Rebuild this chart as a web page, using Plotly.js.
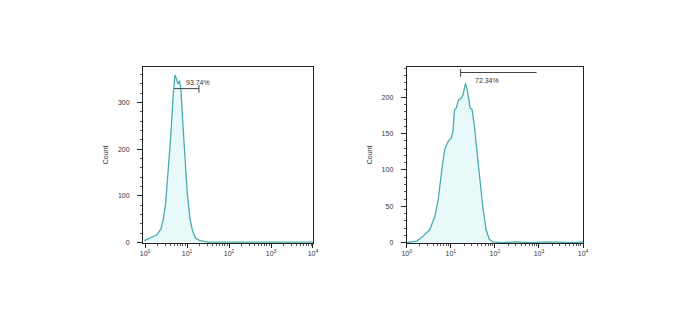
<!DOCTYPE html>
<html>
<head>
<meta charset="utf-8">
<script src="https://cdn.plot.ly/plotly-3.0.1.min.js"></script>
<style>html,body{margin:0;padding:0;background:#fff;}#chart{width:692px;height:315px;}</style>
</head>
<body>
<div id="chart"></div>
<script>
// ---- data ----
// Left histogram (intensity, count)
var leftX = [0.96, 1.44, 1.89, 2.39, 2.71, 3.09, 3.57, 4.14, 4.70, 5.15, 5.53, 6.07, 6.65, 7.16, 7.85, 8.91, 10.1, 11.7, 13.6, 16.0, 20.3, 32.0, 50, 100, 200, 500, 1000, 2000, 5000, 10000];
var leftY = [4, 11, 16, 29, 49, 84, 149, 234, 320, 359, 352, 340, 347, 327, 263, 177, 106, 52, 24, 9, 4, 1, 1, 0, 1, 0, 1, 0, 0, 1];
// Right histogram (intensity, count)
var rightX = [1.0, 1.69, 2.38, 3.35, 4.35, 5.18, 6.14, 7.28, 8.69, 10.3, 11.2, 12.2, 13.3, 15.0, 17.3, 18.9, 21.6, 23.6, 25.8, 27.5, 30.5, 34.4, 38.9, 44.6, 53.1, 63.1, 74.8, 89.1, 150, 300, 700, 1500, 3000, 6000, 10000];
var rightY = [0, 2, 9, 18, 36, 59, 96, 128, 139, 144, 153, 183, 185, 196, 199, 203, 219, 210, 196, 185, 183, 160, 128, 91, 50, 18, 4.5, 1, 0, 1, 0, 1, 0, 0, 1];
// Gates
var leftGate = [4.96, 19.2];  var leftGateY = 330;  var leftGateLabel = '93.74%';
var rightGate = [16.7, 883];  var rightGateY = 234; var rightGateLabel = '72.34%';
// Tick labels
var xTickVals = [1, 10, 100, 1000, 10000];
var xTickText = ['10<sup>0</sup>', '10<sup>1</sup>', '10<sup>2</sup>', '10<sup>3</sup>', '10<sup>4</sup>'];
var leftYTicks = [0, 100, 200, 300];
var rightYTicks = [0, 50, 100, 150, 200];
var yTitle = 'Count';

// ---- styling ----
var lineCol = '#4aabb0', fillCol = '#e8f9fa', axCol = '#222', txtCol = '#333';
var fnt = {family: 'Liberation Sans, Arial, sans-serif', size: 7, color: txtCol};
var minorX = [];
for (var d = 0; d < 4; d++) for (var m = 2; m <= 9; m++) minorX.push(m * Math.pow(10, d));

function xAxis(domain, range, anchor) {
  return {type: 'log', domain: domain, range: range, anchor: anchor,
    showline: true, mirror: true, linecolor: axCol, linewidth: 1,
    showgrid: false, zeroline: false, ticks: 'outside', ticklen: 4, tickcolor: axCol,
    tickmode: 'array', tickvals: xTickVals, ticktext: xTickText, tickfont: fnt,
    minor: {tickmode: 'array', tickvals: minorX, ticks: 'outside', ticklen: 2, tickcolor: '#555', showgrid: false}};
}
function yAxis(domain, range, anchor, tv, mdt) {
  return {domain: domain, range: range, anchor: anchor,
    showline: true, mirror: true, linecolor: axCol, linewidth: 1,
    showgrid: false, zeroline: false, ticks: 'outside', ticklen: 5, tickcolor: axCol,
    tickmode: 'array', tickvals: tv, tickfont: fnt, ticklabelstandoff: 6,
    minor: {dtick: mdt, ticks: 'outside', ticklen: 2, tickcolor: '#555', showgrid: false},
    title: {text: yTitle, font: fnt, standoff: 8}};
}

var traces = [
  {x: leftX, y: leftY, xaxis: 'x', yaxis: 'y', type: 'scatter', mode: 'lines',
   fill: 'tozeroy', fillcolor: fillCol, line: {color: lineCol, width: 1.3}, hoverinfo: 'skip'},
  {x: rightX, y: rightY, xaxis: 'x2', yaxis: 'y2', type: 'scatter', mode: 'lines',
   fill: 'tozeroy', fillcolor: fillCol, line: {color: lineCol, width: 1.3}, hoverinfo: 'skip'},
  {x: [leftGate[0], leftGate[1], null, leftGate[1], leftGate[1]],
   y: [leftGateY, leftGateY, null, leftGateY - 9, leftGateY + 8],
   xaxis: 'x', yaxis: 'y', mode: 'lines', line: {color: '#444', width: 1}, hoverinfo: 'skip'},
  {x: [rightGate[0], rightGate[1], null, rightGate[0], rightGate[0]],
   y: [rightGateY, rightGateY, null, rightGateY - 6, rightGateY + 5],
   xaxis: 'x2', yaxis: 'y2', mode: 'lines', line: {color: '#444', width: 1}, hoverinfo: 'skip'}
];

var layout = {
  width: 692, height: 315, showlegend: false,
  paper_bgcolor: '#fff', plot_bgcolor: '#fff',
  margin: {l: 0, r: 0, t: 0, b: 0},
  xaxis: xAxis([0.2066, 0.4523], [-0.05, 4.0], 'y'),
  yaxis: yAxis([0.2286, 0.7883], [-1, 377], 'x', leftYTicks, 20),
  xaxis2: xAxis([0.5877, 0.8425], [0, 4.0], 'y2'),
  yaxis2: yAxis([0.2286, 0.7883], [-0.5, 242], 'x2', rightYTicks, 10),
  annotations: [
    {xref: 'x', yref: 'y', x: Math.log10(18.2), y: 344, text: leftGateLabel, showarrow: false,
     font: fnt, xanchor: 'center', yanchor: 'middle'},
    {xref: 'x2', yref: 'y2', x: Math.log10(32), y: 223, text: rightGateLabel, showarrow: false,
     font: fnt, xanchor: 'left', yanchor: 'middle'}
  ]
};

Plotly.newPlot('chart', traces, layout, {staticPlot: true, displayModeBar: false});
</script>
</body>
</html>
